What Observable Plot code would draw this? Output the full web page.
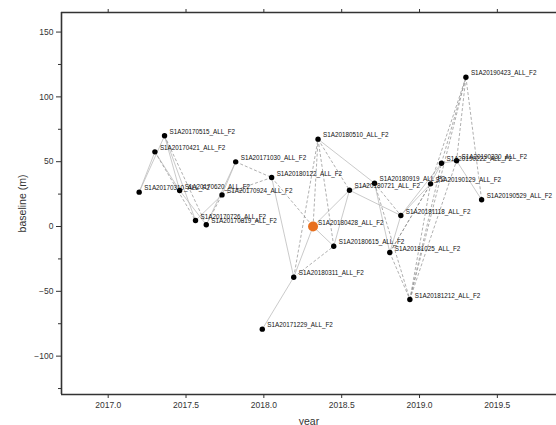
<!DOCTYPE html>
<html>
<head>
<meta charset="utf-8">
<script src="https://cdn.jsdelivr.net/npm/d3@7"></script>
<script src="https://cdn.jsdelivr.net/npm/@observablehq/plot@0.6"></script>
<style>
  html, body { margin: 0; padding: 0; background: #fff; overflow: hidden; }
  #chart svg { display: block; }
</style>
</head>
<body>
<div id="chart"></div>
<script>
// ---- data ----
const labels = [
  "S1A20170310_ALL_F2", "S1A20170421_ALL_F2", "S1A20170515_ALL_F2", "S1A20170620_ALL_F2",
  "S1A20170726_ALL_F2", "S1A20170819_ALL_F2", "S1A20170924_ALL_F2", "S1A20171030_ALL_F2",
  "S1A20180122_ALL_F2", "S1A20171229_ALL_F2", "S1A20180311_ALL_F2", "S1A20180428_ALL_F2",
  "S1A20180510_ALL_F2", "S1A20180615_ALL_F2", "S1A20180721_ALL_F2", "S1A20180919_ALL_F2",
  "S1A20181025_ALL_F2", "S1A20181118_ALL_F2", "S1A20181212_ALL_F2", "S1A20190129_ALL_F2",
  "S1A20190222_ALL_F2", "S1A20190330_ALL_F2", "S1A20190423_ALL_F2", "S1A20190529_ALL_F2"
];
const years = [
  2017.199, 2017.300, 2017.362, 2017.459, 2017.561, 2017.630, 2017.731, 2017.819,
  2018.050, 2017.990, 2018.192, 2018.316, 2018.348, 2018.449, 2018.550, 2018.711,
  2018.809, 2018.880, 2018.938, 2019.071, 2019.141, 2019.238, 2019.298, 2019.399
];
const baselines = [
  26.5, 57.6, 70.0, 27.8, 4.6, 1.3, 24.4, 49.9,
  37.8, -79.2, -39.1, 0.0, 67.4, -15.2, 28.0, 33.4,
  -20.1, 8.5, -56.3, 32.9, 48.8, 50.7, 115.2, 20.6
];
const referenceIndex = 11;
// interferometric pairs (indices into the lists above); dashed flag 1 = dashed
const pairFrom = [0,0,1,1,2,2,2,3,4,5,5,6,6,7,8,8,9,10,10,10,11,11,11,12,12,12,13,14,14,15,15,15,16,16,16,17,17,18,18,18,19,19,20,20,21,21,22,18,16];
const pairTo   = [1,2,3,4,4,5,3,5,6,6,7,7,8,8,10,11,10,11,12,13,12,13,14,13,14,15,14,15,17,16,18,17,17,18,19,19,20,19,20,21,20,22,21,22,22,23,23,22,19];
const pairDash = [0,0,0,1,0,1,0,0,0,1,0,0,1,1,0,1,0,0,1,1,1,0,0,1,1,0,0,0,0,0,1,1,0,1,1,0,0,1,1,1,0,1,0,1,1,0,1,1,1];

const xTicks = [2017.0, 2017.5, 2018.0, 2018.5, 2019.0, 2019.5];
const yTicks = [-100, -50, 0, 50, 100, 150];
const yMinorTicks = [-125, -75, -25, 25, 75, 125];
const xDomain = [2016.70, 2019.88];
const yDomain = [-129.6, 165.1];

// ---- build tables ----
const points = labels.map((label, i) => ({label, year: years[i], baseline: baselines[i], ref: i === referenceIndex}));
const pairs = pairFrom.map((a, k) => ({
  x1: years[a], y1: baselines[a], x2: years[pairTo[k]], y2: baselines[pairTo[k]], dashed: pairDash[k] === 1
}));

const font = "'Liberation Sans', Arial, Helvetica, sans-serif";

const chart = Plot.plot({
  width: 556,
  height: 425,
  marginLeft: 61,
  marginRight: 0,
  marginTop: 12,
  marginBottom: 31,
  style: {fontFamily: font, fontSize: "8.5px", color: "#333", background: "#fff"},
  x: {domain: xDomain},
  y: {domain: yDomain},
  marks: [
    Plot.link(pairs.filter(d => !d.dashed), {x1: "x1", y1: "y1", x2: "x2", y2: "y2", stroke: "#bdbdbd", strokeWidth: 0.8}),
    Plot.link(pairs.filter(d => d.dashed), {x1: "x1", y1: "y1", x2: "x2", y2: "y2", stroke: "#8c8c8c", strokeWidth: 0.7, strokeDasharray: "3,2"}),
    Plot.ruleY([yDomain[0], yDomain[1]], {stroke: "#333", strokeWidth: 1.6}),
    Plot.ruleX([xDomain[0]], {stroke: "#333", strokeWidth: 1.6}),
    Plot.axisY({ticks: yTicks, tickSize: 5, tickPadding: 3, label: "baseline (m)", labelAnchor: "center", labelArrow: "none", labelOffset: 43, fontSize: 8.5}),
    Plot.axisY({ticks: yMinorTicks, tickSize: 3, tickFormat: () => "", label: null}),
    Plot.axisX({ticks: xTicks, tickSize: 4, tickPadding: 3, tickFormat: d3.format(".1f"), label: "year", labelAnchor: "center", labelArrow: "none", labelOffset: 30, fontSize: 8.5}),
    Plot.axisX({anchor: "top", ticks: xTicks, tickSize: 4, tickFormat: () => "", label: null}),
    Plot.dot(points.filter(d => !d.ref), {x: "year", y: "baseline", r: 2.7, fill: "#000", stroke: "none"}),
    Plot.dot(points.filter(d => d.ref), {x: "year", y: "baseline", r: 5, fill: "#e8701f", stroke: "none"}),
    Plot.text(points, {x: "year", y: "baseline", text: "label", textAnchor: "start", dx: 5, dy: -4, fontSize: 6.3, fill: "#111"})
  ]
});

// axis title font sizes
chart.querySelectorAll("g[aria-label='y-axis label'], g[aria-label='x-axis label']").forEach(g => {
  g.setAttribute("font-size", "10.5");
  g.querySelectorAll("text").forEach(t => t.setAttribute("font-size", "10.5"));
});
document.getElementById("chart").appendChild(chart);
</script>
</body>
</html>
